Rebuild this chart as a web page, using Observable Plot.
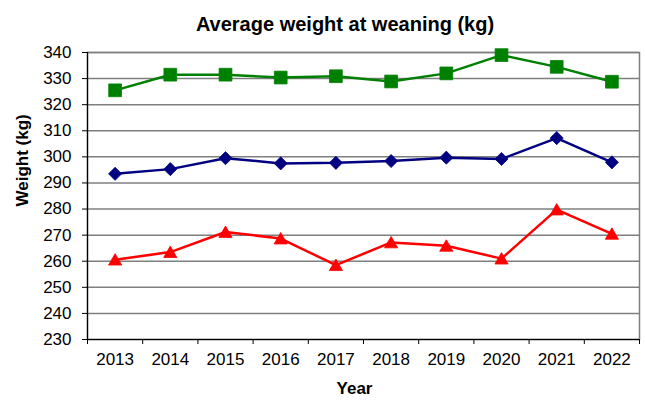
<!DOCTYPE html>
<html>
<head>
<meta charset="utf-8">
<script src="https://cdn.jsdelivr.net/npm/d3@7"></script>
<script src="https://cdn.jsdelivr.net/npm/@observablehq/plot@0.6"></script>
<style>
  html, body { margin: 0; padding: 0; background: #fff; }
  #wrap { width: 645px; height: 403px; position: relative; font-family: "Liberation Sans", Arial, sans-serif; }
  #title { box-sizing: border-box; height: 40px; width: 645px; padding-top: 14px; padding-left: 45px;
           text-align: center; font-weight: bold; font-size: 20px; line-height: 20px; color: #000; }
  svg { display: block; }
</style>
</head>
<body>
<div id="wrap">
  <div id="title">Average weight at weaning (kg)</div>
  <div id="chart"></div>
</div>
<script>
const years = [2013, 2014, 2015, 2016, 2017, 2018, 2019, 2020, 2021, 2022];
const greenSeries = [325.5, 331.5, 331.5, 330.4, 330.9, 328.9, 332.0, 339.0, 334.5, 328.8];
const navySeries  = [293.5, 295.3, 299.5, 297.5, 297.7, 298.4, 299.7, 299.2, 307.2, 297.9];
const redSeries   = [260.6, 263.5, 271.2, 268.7, 258.5, 267.2, 265.9, 261.0, 279.8, 270.5];
const yTicks = [230, 240, 250, 260, 270, 280, 290, 300, 310, 320, 330, 340];
const xLabel = "Year";
const yLabel = "Weight (kg)";

const series = [
  {name: "green", values: greenSeries, color: "#008000", symbol: "square", r: 7.2, dy: 0},
  {name: "navy", values: navySeries, color: "#000080", symbol: "diamond2", r: 5.9, dy: 0},
  {name: "red", values: redSeries, color: "#ff0000", symbol: "triangle", r: 4.9, dy: 1.6}
];

const xDomain = [years[0] - 0.5, years[years.length - 1] + 0.5];
const boundaries = years.map(y => y - 0.5).concat([years[years.length - 1] + 0.5]);

const marks = [
  Plot.gridY(yTicks, {stroke: "#7f7f7f", strokeOpacity: 1, strokeWidth: 1.5}),
  Plot.frame({stroke: "#7f7f7f", strokeWidth: 1.5}),
  Plot.ruleX([xDomain[0]], {stroke: "#000", strokeWidth: 1.2}),
  Plot.ruleY([yTicks[0]], {stroke: "#000", strokeWidth: 1.2}),
  Plot.axisY(yTicks, {tickSize: 5, tickPadding: 11, tickFormat: d => String(d), label: null}),
  Plot.axisX(boundaries, {tickSize: 5, tickFormat: () => "", label: null}),
  Plot.axisX(years, {tickSize: 0, tickPadding: 13, tickFormat: d => String(d), label: null})
];

for (const s of series) {
  const data = years.map((year, i) => ({year, value: s.values[i]}));
  marks.push(Plot.line(data, {x: "year", y: "value", stroke: s.color, strokeWidth: 2.5}));
  marks.push(Plot.dot(data, {x: "year", y: "value", symbol: s.symbol, r: s.r, fill: s.color, stroke: s.color, strokeWidth: 0.8, dy: s.dy}));
}

marks.push(Plot.text([yLabel], {frameAnchor: "left", text: d => d, rotate: -90, dx: -65, dy: 10.5,
  fontWeight: "bold", fontSize: 17, fill: "#000"}));
marks.push(Plot.text([xLabel], {frameAnchor: "bottom", text: d => d, dx: -9, dy: 54,
  fontWeight: "bold", fontSize: 17, fill: "#000"}));

const chart = Plot.plot({
  width: 645,
  height: 363,
  marginTop: 12,
  marginBottom: 64,
  marginLeft: 87,
  marginRight: 6,
  style: {fontFamily: "'Liberation Sans', Arial, sans-serif", fontSize: "17px", color: "#000", background: "#fff", overflow: "visible"},
  x: {domain: xDomain},
  y: {domain: [yTicks[0], yTicks[yTicks.length - 1]]},
  marks
});
document.getElementById("chart").appendChild(chart);
</script>
</body>
</html>
